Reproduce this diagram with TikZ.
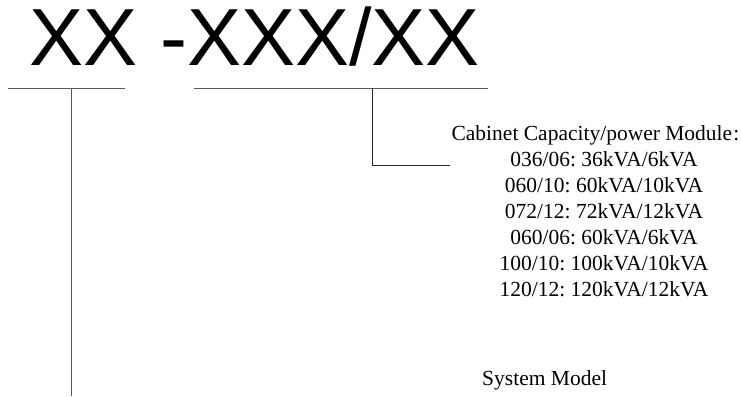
\documentclass[tikz,border=0pt]{standalone}
\usepackage{fontspec}
\setmainfont{Liberation Serif}
\newfontfamily\titlefont{Liberation Sans}
\frenchspacing
\begin{document}
\begin{tikzpicture}[x=1bp,y=-1bp,
  titletext/.style={inner sep=0, anchor=base west, font=\titlefont\fontsize{81bp}{81bp}\selectfont},
  infotext/.style={inner sep=0, anchor=base, font=\fontsize{21.5bp}{26bp}\selectfont},
  underline/.style={draw=black!65, line width=0.9bp},
  leader/.style={draw=black!85, line width=0.9bp}]
\useasboundingbox (0,0) rectangle (742,396);
\node[titletext] (title) at (29.7,65) {XX -XXX/XX};
% underlines
\coordinate (u1a) at (8,88);
\coordinate (u1b) at (125,88);
\coordinate (u2a) at (194,88);
\coordinate (u2b) at (488,88);
\coordinate (v1) at (71,88);
\coordinate (v1end) at (71,396);
\coordinate (v2) at (372.5,88);
\coordinate (v2corner) at (372.5,165);
\coordinate (v2end) at (450,165);
\draw[underline] (u1a) -- (u1b);
\draw[underline] (u2a) -- (u2b);
\draw[underline] (v1) -- (v1end);
\draw[leader] (v2) -- (v2corner) -- (v2end);
% capacity list
\node[inner sep=0, anchor=base west, font=\fontsize{21.5bp}{26bp}\selectfont] (l0) at (451.4,140) {Cabinet Capacity/power Module\kern1bp:};
\node[infotext] (l1) at (604,166) {036/06: 36kVA/6kVA};
\node[infotext] (l2) at (604,192) {060/10: 60kVA/10kVA};
\node[infotext] (l3) at (604,218) {072/12: 72kVA/12kVA};
\node[infotext] (l4) at (604,244) {060/06: 60kVA/6kVA};
\node[infotext] (l5) at (604,270) {100/10: 100kVA/10kVA};
\node[infotext] (l6) at (604,296) {120/12: 120kVA/12kVA};
\node[inner sep=0, anchor=base west, font=\fontsize{21.5bp}{26bp}\selectfont] (sysmodel) at (482,385) {System Model};
\end{tikzpicture}
\end{document}
